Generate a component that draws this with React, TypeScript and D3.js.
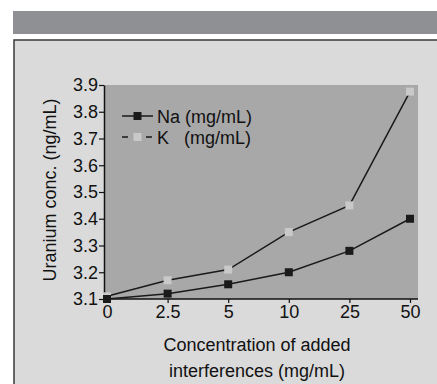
import { useEffect, useRef } from 'react';
import * as d3 from 'd3';

const categories = ['0', '2.5', '5', '10', '25', '50'];
const naValues = [3.1, 3.12, 3.155, 3.2, 3.28, 3.4];
const kValues = [3.11, 3.17, 3.21, 3.35, 3.45, 3.875];
const yTicks = [3.1, 3.2, 3.3, 3.4, 3.5, 3.6, 3.7, 3.8, 3.9];

const FONT = "'Liberation Sans Narrow', 'Liberation Sans', Arial, sans-serif";
const FS = '18px';

export default function App() {
  const svgRef = useRef<SVGSVGElement>(null);

  useEffect(() => {
    if (!svgRef.current) return;
    d3.select(svgRef.current).selectAll('*').remove();

    const W = 437;
    const H = 384;
    const svg = d3.select(svgRef.current).attr('width', W).attr('height', H);

    // Page background, header bar and figure box
    svg.append('rect').attr('width', W).attr('height', H).attr('fill', '#ffffff');
    svg.append('rect')
      .attr('x', 13).attr('y', 11).attr('width', W - 13).attr('height', 23)
      .attr('fill', '#8f9094');
    svg.append('rect')
      .attr('x', 14).attr('y', 40).attr('width', W).attr('height', H)
      .attr('fill', '#dadada')
      .attr('stroke', '#3a3a3a')
      .attr('stroke-width', 1.5);

    // Plot area
    const plot = { left: 104, right: 418, top: 85, bottom: 299 };

    const xScale = d3.scalePoint<string>()
      .domain(categories)
      .range([107, 410]);

    const yScale = d3.scaleLinear()
      .domain([3.1, 3.9])
      .range([plot.bottom, plot.top]);

    svg.append('rect')
      .attr('x', plot.left).attr('y', plot.top)
      .attr('width', plot.right - plot.left).attr('height', plot.bottom - plot.top)
      .attr('fill', '#a8a8a8');

    // Axes
    const yAxis = svg.append('g')
      .attr('transform', `translate(${plot.left},0)`)
      .call(d3.axisLeft(yScale).tickValues(yTicks).tickSize(5).tickSizeOuter(0).tickFormat(d3.format('.1f')));
    yAxis.select('.domain').attr('stroke', '#111').attr('stroke-width', 1.5);
    yAxis.selectAll('line').attr('stroke', '#111').attr('stroke-width', 1.2);
    yAxis.selectAll('text')
      .attr('fill', '#111')
      .attr('font-size', FS)
      .attr('font-family', FONT)
      .attr('x', -6);

    const xAxis = svg.append('g')
      .attr('transform', `translate(0,${plot.bottom})`)
      .call(d3.axisBottom(xScale).tickSize(4).tickSizeOuter(0));
    xAxis.select('.domain')
      .attr('d', `M${plot.left},0H${plot.right}`)
      .attr('stroke', '#111').attr('stroke-width', 1.5);
    xAxis.selectAll('line').attr('stroke', '#111').attr('stroke-width', 1.2);
    xAxis.selectAll('text')
      .attr('fill', '#111')
      .attr('font-size', FS)
      .attr('font-family', FONT)
      .attr('y', 6);

    // Series
    const line = d3.line<number>()
      .x((_, i) => xScale(categories[i]) as number)
      .y(d => yScale(d));

    svg.append('path')
      .datum(kValues)
      .attr('fill', 'none')
      .attr('stroke', '#1a1a1a')
      .attr('stroke-width', 1.5)
      .attr('d', line);

    svg.append('path')
      .datum(naValues)
      .attr('fill', 'none')
      .attr('stroke', '#1a1a1a')
      .attr('stroke-width', 1.5)
      .attr('d', line);

    const ms = 8;
    svg.selectAll('.k-mark')
      .data(kValues)
      .enter()
      .append('rect')
      .attr('class', 'k-mark')
      .attr('x', (_, i) => (xScale(categories[i]) as number) - ms / 2)
      .attr('y', d => yScale(d) - ms / 2)
      .attr('width', ms).attr('height', ms)
      .attr('fill', '#c9c9c9');

    svg.selectAll('.na-mark')
      .data(naValues)
      .enter()
      .append('rect')
      .attr('class', 'na-mark')
      .attr('x', (_, i) => (xScale(categories[i]) as number) - ms / 2)
      .attr('y', d => yScale(d) - ms / 2)
      .attr('width', ms).attr('height', ms)
      .attr('fill', '#1a1a1a');

    // Legend
    const legend = svg.append('g').attr('transform', 'translate(122,116)');
    legend.append('line')
      .attr('x1', 0).attr('x2', 31).attr('y1', 0).attr('y2', 0)
      .attr('stroke', '#1a1a1a').attr('stroke-width', 1.5);
    legend.append('rect')
      .attr('x', 15.5 - 4).attr('y', -4).attr('width', 8).attr('height', 8)
      .attr('fill', '#1a1a1a');
    legend.append('text')
      .attr('x', 35).attr('y', 6.5)
      .attr('fill', '#111').attr('font-size', FS).attr('font-family', FONT)
      .text('Na (mg/mL)');

    const k = legend.append('g').attr('transform', 'translate(0,21)');
    k.append('line')
      .attr('x1', 0).attr('x2', 31).attr('y1', 0).attr('y2', 0)
      .attr('stroke', '#1a1a1a').attr('stroke-width', 1.5)
      .attr('stroke-dasharray', '6,6');
    k.append('rect')
      .attr('x', 15.5 - 4).attr('y', -4).attr('width', 8).attr('height', 8)
      .attr('fill', '#c9c9c9');
    k.append('text')
      .attr('x', 35).attr('y', 6.5)
      .attr('fill', '#111').attr('font-size', FS).attr('font-family', FONT)
      .attr('xml:space', 'preserve')
      .text('K   (mg/mL)');

    // Axis titles
    svg.append('text')
      .attr('transform', 'rotate(-90)')
      .attr('x', -(plot.top + plot.bottom) / 2 + 2)
      .attr('y', 56)
      .attr('text-anchor', 'middle')
      .attr('fill', '#111').attr('font-size', FS).attr('font-family', FONT)
      .text('Uranium conc. (ng/mL)');

    svg.append('text')
      .attr('x', 257).attr('y', 351)
      .attr('text-anchor', 'middle')
      .attr('fill', '#111').attr('font-size', FS).attr('font-family', FONT)
      .text('Concentration of added');
    svg.append('text')
      .attr('x', 257).attr('y', 377)
      .attr('text-anchor', 'middle')
      .attr('fill', '#111').attr('font-size', FS).attr('font-family', FONT)
      .text('interferences (mg/mL)');
  }, []);

  return (
    <div style={{ position: 'fixed', left: 0, top: 0 }}>
      <svg ref={svgRef} style={{ display: 'block' }} />
    </div>
  );
}
